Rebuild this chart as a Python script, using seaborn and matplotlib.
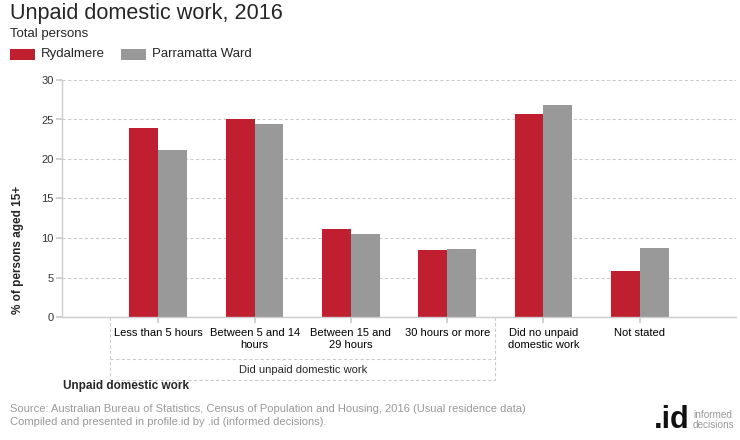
import matplotlib
matplotlib.use("Agg")
import matplotlib.pyplot as plt
import seaborn as sns
import pandas as pd
from matplotlib.patches import Rectangle

categories = ["Less than 5 hours", "Between 5 and 14\nhours", "Between 15 and\n29 hours",
              "30 hours or more", "Did no unpaid\ndomestic work", "Not stated"]
series_names = ["Rydalmere", "Parramatta Ward"]
rydalmere = [23.9, 25.1, 11.2, 8.5, 25.7, 5.8]
parramatta = [21.1, 24.4, 10.5, 8.6, 26.8, 8.7]
y_ticks = [0, 5, 10, 15, 20, 25, 30]
group_label = "Did unpaid domestic work"
colors = ["#C01F30", "#999999"]

df = pd.DataFrame({
    "category": categories * 2,
    "series": [series_names[0]] * len(categories) + [series_names[1]] * len(categories),
    "value": rydalmere + parramatta,
})

sns.set_theme(style="white")
plt.rcParams["font.family"] = ["Liberation Sans", "DejaVu Sans"]

fig = plt.figure(figsize=(7.4, 4.4), dpi=100)
ax = fig.add_axes([62 / 740, 1 - 317 / 440, (736 - 62) / 740, (317 - 80) / 440])

sns.barplot(data=df, x="category", y="value", hue="series", order=categories,
            hue_order=series_names, palette=colors, width=0.6, ax=ax,
            legend=False, saturation=1, errorbar=None, linewidth=0, edgecolor="none")

ax.set_xlim(-1, 6)
ax.set_ylim(0, 30)
ax.set_yticks(y_ticks)
ax.set_yticklabels([str(t) for t in y_ticks], fontsize=8, color="#333333")
ax.set_xticks(range(len(categories)))
ax.set_xticklabels(categories, fontsize=8, color="#000000")
ax.set_xlabel("")
ax.set_ylabel("")
ax.yaxis.grid(True, linestyle=(0, (3, 2)), color="#cccccc", linewidth=0.8)
ax.set_axisbelow(True)
for s in ["top", "right"]:
    ax.spines[s].set_visible(False)
for s in ["left", "bottom"]:
    ax.spines[s].set_color("#cccccc")
    ax.spines[s].set_linewidth(1)
ax.tick_params(axis="y", length=4, color="#cccccc", pad=2, left=True)
ax.tick_params(axis="x", length=4, color="#cccccc", pad=4, bottom=True)

# group box
tr = ax.get_xaxis_transform()
y1 = (317 - 359) / 237
y2 = (317 - 380) / 237
box_kw = dict(transform=tr, clip_on=False, color="#cccccc", linewidth=0.8, linestyle=(0, (3, 2)))
ax.plot([-0.5, -0.5], [0, y2], **box_kw)
ax.plot([3.5, 3.5], [0, y2], **box_kw)
ax.plot([-0.5, 3.5], [y1, y1], **box_kw)
ax.plot([-0.5, 3.5], [y2, y2], **box_kw)
ax.text(1.5, (317 - 370) / 237, group_label, transform=tr, ha="center", va="center", fontsize=8)

# titles
fig.text(10 / 740, 1 - 14 / 440, "Unpaid domestic work, 2016", fontsize=15.6, va="center", ha="left")
fig.text(10 / 740, 1 - 34 / 440, "Total persons", fontsize=9.5, va="center", ha="left")

# legend
for name, c, x0 in zip(series_names, colors, [10, 121]):
    fig.patches.append(Rectangle((x0 / 740, 1 - 60 / 440), 25 / 740, 11 / 440,
                                 transform=fig.transFigure, facecolor=c, edgecolor="none"))
    fig.text((x0 + 31) / 740, 1 - 54 / 440, name, fontsize=9.5, va="center", ha="left")

fig.text(18 / 740, 1 - 250 / 440, "% of persons aged 15+", rotation=90, fontsize=8.5,
         fontweight="bold", va="center", ha="center")
fig.text(63 / 740, 1 - 386 / 440, "Unpaid domestic work", fontsize=8.5, fontweight="bold",
         va="center", ha="left")

fig.text(10 / 740, 1 - 409 / 440,
         "Source: Australian Bureau of Statistics, Census of Population and Housing, 2016 (Usual residence data)",
         fontsize=8, color="#999999", va="center", ha="left")
fig.text(10 / 740, 1 - 422 / 440, "Compiled and presented in profile.id by .id (informed decisions).",
         fontsize=8, color="#999999", va="center", ha="left")

# logo
fig.text(690 / 740, 1 - 428 / 440, ".id", fontsize=22, fontweight="bold", color="#111111",
         ha="right", va="baseline")
fig.text(693 / 740, 1 - 420 / 440, "informed\ndecisions", fontsize=7.2, color="#999999",
         ha="left", va="center", linespacing=0.9)

fig.savefig("out.png", dpi=100)
